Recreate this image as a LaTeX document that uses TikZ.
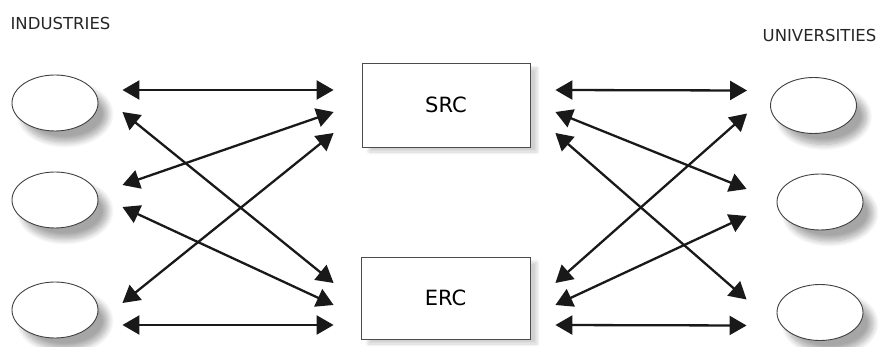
\documentclass[tikz,border=0pt]{standalone}
\usepackage{fontspec}
\setmainfont{DejaVu Sans}
\usetikzlibrary{arrows.meta,shapes.geometric,shadows.blur}

\tikzset{
  party/.style={ellipse, draw=black!75, line width=0.9pt, fill=white,
    minimum width=86pt, minimum height=56pt, inner sep=0pt,
    blur shadow={shadow xshift=10pt, shadow yshift=-11pt,
      shadow blur steps=10, shadow blur radius=6pt, shadow opacity=35}},
  council/.style={rectangle, draw=black!70, line width=0.8pt, fill=white,
    inner sep=0pt, font=\fontsize{21}{24}\selectfont,
    blur shadow={shadow xshift=7pt, shadow yshift=-5pt,
      shadow blur steps=6, shadow blur radius=3pt, shadow opacity=18}},
  grouplabel/.style={inner sep=0pt, text=black!85,
    font=\fontsize{16.5}{19}\selectfont},
  link/.style={line width=2.3pt, draw=black!90,
    {Triangle[length=17pt,width=19pt]}-{Triangle[length=17pt,width=19pt]}}
}

\begin{document}
\begin{tikzpicture}[x=1pt,y=-1pt]
  \useasboundingbox (0,0) rectangle (881,347);

  % group headings
  \node[grouplabel] (indlabel) at (60.5,23) {INDUSTRIES};
  \node[grouplabel] (unilabel) at (819.5,35.5) {UNIVERSITIES};

  % industries
  \node[party] (i1) at (55,103) {};
  \node[party] (i2) at (55,200) {};
  \node[party] (i3) at (55,310) {};

  % universities
  \node[party] (u1) at (813.5,105.5) {};
  \node[party] (u2) at (820,202) {};
  \node[party] (u3) at (820,312.5) {};

  % research councils
  \node[council, minimum width=168pt, minimum height=84pt] (src) at (446,105) {SRC};
  \node[council, minimum width=169pt, minimum height=82pt] (erc) at (445.5,298) {ERC};

  % industries <-> councils
  \draw[link] ([shift={(24,-13)}]i1.east) -- ([shift={(-28,-15)}]src.west);
  \draw[link] ([shift={(24,9)}]i1.east)   -- ([shift={(-27,-15)}]erc.west);
  \draw[link] ([shift={(24,-15)}]i2.east) -- ([shift={(-28,7)}]src.west);
  \draw[link] ([shift={(24,7)}]i2.east)   -- ([shift={(-27,7)}]erc.west);
  \draw[link] ([shift={(24,-7)}]i3.east)  -- ([shift={(-28,28)}]src.west);
  \draw[link] ([shift={(24,15)}]i3.east)  -- ([shift={(-27,27)}]erc.west);

  % councils <-> universities
  \draw[link] ([shift={(25,-15)}]src.east) -- ([shift={(-23,-15)}]u1.west);
  \draw[link] ([shift={(25,7)}]src.east)   -- ([shift={(-30,-13)}]u2.west);
  \draw[link] ([shift={(25,28)}]src.east)  -- ([shift={(-30,-13)}]u3.west);
  \draw[link] ([shift={(25,-15)}]erc.east) -- ([shift={(-23,8)}]u1.west);
  \draw[link] ([shift={(25,7)}]erc.east)   -- ([shift={(-30,14)}]u2.west);
  \draw[link] ([shift={(25,27)}]erc.east)  -- ([shift={(-30,13)}]u3.west);
\end{tikzpicture}
\end{document}
